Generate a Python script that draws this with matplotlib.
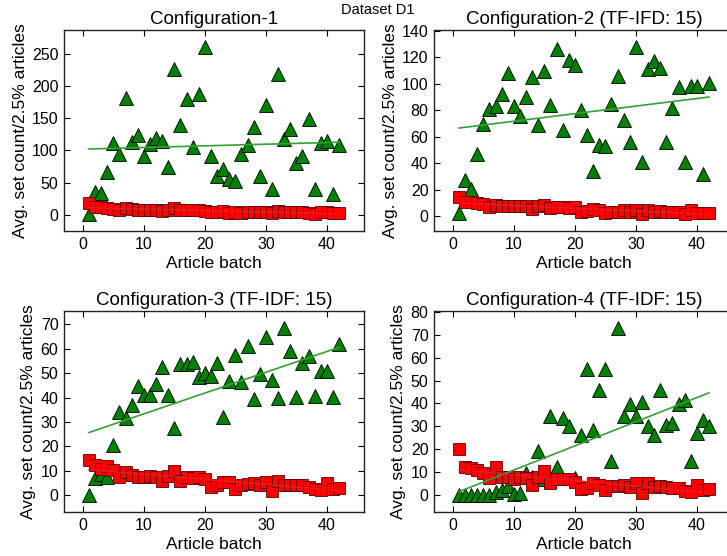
import numpy as np
import matplotlib
matplotlib.use("Agg")
import matplotlib.pyplot as plt
from matplotlib.ticker import MultipleLocator

plt.rcParams['font.family'] = ['Liberation Sans', 'DejaVu Sans']
plt.rcParams['xtick.direction'] = 'in'
plt.rcParams['ytick.direction'] = 'in'
plt.rcParams['xtick.top'] = True
plt.rcParams['ytick.right'] = True

batches = np.arange(1, 43)

titles = ["Configuration-1", "Configuration-2 (TF-IFD: 15)",
          "Configuration-3 (TF-IDF: 15)", "Configuration-4 (TF-IDF: 15)"]

# green triangles (upper series)
sets_c1 = [2, 36, 34, 66, 112, 95, 182, 113, 124, 91, 110, 119, 114, 74, 227,
           139, 180, 105, 188, 261, 92, 61, 72, 56, 53, 95, 109, 136, 61, 171,
           40, 219, 118, 134, 80, 92, 149, 40, 112, 114, 33, 109]
sets_c2 = [2, 27.6, 20.6, 47, 70, 81, 83, 92, 108, 83, 76, 90, 105, 69, 110,
           84, 126, 65, 118, 114, 80, 61, 34, 54, 53, 85, 106, 73, 56, 128,
           41, 111, 117, 112, 56, 82, 97.5, 41, 98.5, 98.5, 32, 100.5]
sets_c3 = [0, 7, 8.8, 7.6, 20.4, 34, 31.7, 37, 44.7, 41, 41, 45.5, 52.6, 41,
           27.4, 53.7, 53.7, 54.6, 48.5, 49.9, 48.9, 54, 32, 46.6, 57.6, 46.5,
           61, 39.5, 49.7, 64.8, 47.3, 39.7, 68.6, 59, 40.4, 54, 57, 40.8,
           50.7, 50.7, 40.4, 62]
sets_c4 = [0, 0, 0, 0, 0, 0, 1.6, 2.3, 4, 0.6, 0.9, 9.6, 8.1, 19.4, 7, 34.6,
           12.5, 33.8, 30, 7.5, 26.2, 55.2, 28.4, 45.8, 55, 15, 73, 34.6,
           39.6, 34.6, 40.7, 30, 26.2, 46, 30.6, 31.3, 39.6, 41.4, 15, 27.2,
           32.8, 30]

# red squares (lower series)
base_c1 = [18.6, 12, 12, 11, 9, 8, 11, 9, 8, 8, 8, 8, 6, 8, 10, 7, 7, 8, 7, 6,
           4, 5, 6, 3, 5, 3, 5, 4, 4, 4, 3, 6, 4, 4, 4, 4, 3, 1, 4, 5, 3, 3]
base_c2 = [14.8, 10.5, 10.5, 10, 9.3, 6.8, 8.5, 7.8, 7.3, 7.8, 7.8, 7.3, 5.5,
           7.8, 8.5, 6, 6.8, 6.8, 6, 6.8, 3, 4, 5.3, 4.8, 2.3, 3.5, 3, 4.8, 3,
           4.8, 1.8, 4.8, 3.5, 4, 3, 3, 3.5, 1.5, 4.8, 2.3, 2.3, 2.3]
base_c3 = [14.5, 12.5, 10.9, 12, 10.2, 7.5, 9.5, 8.2, 7.5, 7.5, 7.9, 7.5, 5.7,
           7.9, 9.9, 5.7, 7.5, 7, 7.5, 6.8, 3.4, 4.3, 5.4, 5.4, 2.7, 4, 4.5, 5,
           4.3, 5.4, 1.6, 5.7, 4, 4.3, 4, 4.3, 3.4, 2.7, 2, 5, 2.7, 3]
base_c4 = [20, 12.2, 11.7, 11, 9.6, 7.4, 12.2, 8.1, 7.8, 7, 8.1, 7.4, 4.5, 7.8,
           10.6, 5.5, 7.1, 7, 7, 5.9, 2.6, 3, 5.2, 4.5, 2.3, 4, 4, 4.5, 3.8,
           5.2, 0.9, 5.2, 3.8, 4, 3.8, 3.3, 3, 1.9, 1.6, 4.5, 2.3, 2.6]

upper = [sets_c1, sets_c2, sets_c3, sets_c4]
lower = [base_c1, base_c2, base_c3, base_c4]
ysteps = [50, 20, 10, 10]

W, H = 727, 556
fig = plt.figure(figsize=(W / 100, H / 100), dpi=100)
boxes = [(64, 30), (434, 30), (64, 311), (434, 311)]
aw, ah = 300, 201

for i in range(4):
    l, t = boxes[i]
    ax = fig.add_axes([l / W, 1 - (t + ah) / H, aw / W, ah / H])
    g = np.array(upper[i])
    r = np.array(lower[i])
    ax.plot(batches, g, '^', ms=9.5, mfc='#008000', mec='k', mew=0.6, zorder=2)
    ax.plot(batches, r, 's', ms=8.5, mfc='#ff0000', mec='#5a0000', mew=0.6, zorder=3)
    pg = np.polyfit(batches, g, 1)
    pr = np.polyfit(batches, r, 1)
    ax.plot(batches, np.polyval(pg, batches), '-', color='#35a035', lw=1.2, zorder=4)
    ax.plot(batches, np.polyval(pr, batches), '-', color='#e02020', lw=1.0, zorder=4)
    ax.margins(0.1)
    ax.xaxis.set_major_locator(MultipleLocator(10))
    ax.yaxis.set_major_locator(MultipleLocator(ysteps[i]))
    ax.tick_params(labelsize=11.5, length=4, width=0.8, pad=4)
    for s in ax.spines.values():
        s.set_linewidth(1.0)
        s.set_color('#222222')
    ax.set_title(titles[i], fontsize=13.5, pad=4)
    ax.set_xlabel("Article batch", fontsize=12.5, labelpad=3)
    ax.set_ylabel("Avg. set count/2.5% articles", fontsize=12.5, labelpad=3)

fig.text(0.52, 1 - 10 / H, "Dataset D1", ha='center', va='center', fontsize=10.5)

fig.savefig("out.png", dpi=100)
